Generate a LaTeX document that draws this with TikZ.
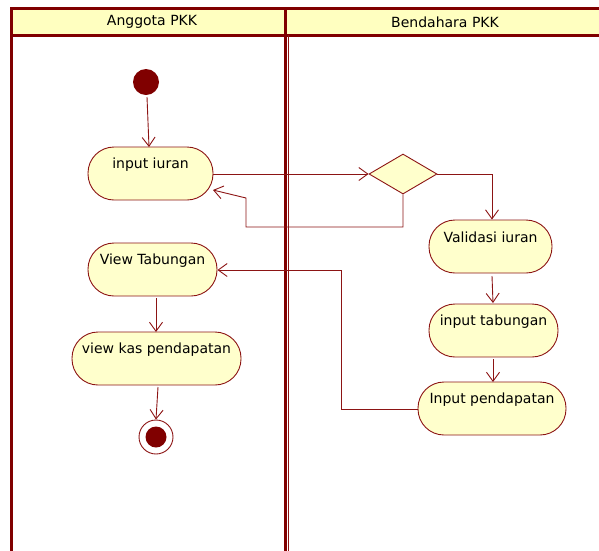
\documentclass[tikz,border=0pt]{standalone}
\usepackage{fontspec}
\setmainfont{DejaVu Sans}
\usetikzlibrary{arrows.meta,shapes.geometric}
\definecolor{umlred}{RGB}{128,0,0}
\definecolor{linered}{RGB}{140,20,20}
\definecolor{actfill}{RGB}{255,255,204}
\definecolor{headfill}{RGB}{255,255,192}
\tikzset{
  lane/.style={draw=umlred, line width=3pt},
  act/.style={draw=linered, fill=actfill, line width=0.9pt, rounded corners=26pt, minimum height=53pt, inner sep=0pt},
  lbl/.style={font=\fontsize{14}{16}\selectfont, text=black},
  flow/.style={draw=linered, line width=0.9pt, -{Straight Barb[length=9pt,width=13pt]}},
}
\begin{document}
\begin{tikzpicture}[x=1pt,y=-1pt]
\useasboundingbox (0,0) rectangle (599,550);
% lanes
\fill[headfill] (11,8) rectangle (605,35);
\draw[lane] (11,560) -- (11,8) -- (605,8);
\draw[lane] (11,35) -- (605,35);
\draw[lane] (285,8) -- (285,560);
\draw[draw=linered, line width=1pt] (288,35) -- (288,560);
\node[lbl] (laneA) at (152,22) {Anggota PKK};
\node[lbl] (laneB) at (445,22) {Bendahara PKK};
% nodes
\node[circle, fill=umlred, minimum size=26pt, inner sep=0pt] (start) at (146,82) {};
\node[act, minimum width=125pt, label={[lbl, yshift=9pt]center:input iuran}] (iuran) at (150.5,173.5) {};
\node[diamond, draw=linered, fill=actfill, line width=0.9pt, minimum width=68pt, minimum height=40pt, inner sep=0pt] (dec) at (403,174) {};
\node[act, minimum width=123pt, label={[lbl, yshift=9pt]center:Validasi iuran}] (valid) at (490.5,246.5) {};
\node[act, minimum width=129pt, label={[lbl, yshift=9pt]center:input tabungan}] (tab) at (493.5,330.5) {};
\node[act, minimum width=148pt, label={[lbl, yshift=9pt]center:Input pendapatan}] (pend) at (492,408.5) {};
\node[act, minimum width=129pt, label={[lbl, yshift=9pt]center:View Tabungan}] (view) at (152.5,269.5) {};
\node[act, minimum width=169pt, label={[lbl, yshift=9pt]center:view kas pendapatan}] (kas) at (156.5,358.5) {};
\node[circle, draw=linered, fill=white, line width=0.9pt, minimum size=34pt, inner sep=0pt] (end) at (156,437) {};
\node[circle, fill=umlred, minimum size=21pt, inner sep=0pt] at (end.center) {};
% connectors
\coordinate (a1) at (147,97);
\coordinate (a2) at (149,147);
\draw[flow] (a1) -- (a2);
\draw[flow] (iuran.east |- dec.west) -- (dec.west);
\coordinate (r1) at (403,227);
\coordinate (r2) at (246,227);
\coordinate (r3) at (246,198);
\coordinate (r4) at (213,190);
\draw[flow] (dec.south) -- (r1) -- (r2) -- (r3) -- (r4);
\coordinate (d1) at (492,174);
\draw[flow] (dec.east) -- (d1) -- (valid.north -| d1);
\coordinate (v1) at (492,276);
\coordinate (v2) at (493,303);
\draw[flow] (v1) -- (v2);
\coordinate (t1) at (493,359);
\coordinate (t2) at (493,382);
\draw[flow] (t1) -- (t2);
\coordinate (p1) at (341,409);
\coordinate (p2) at (341,270);
\draw[flow] (pend.west |- p1) -- (p1) -- (p2) -- (view.east |- p2);
\coordinate (w1) at (156,298);
\coordinate (w2) at (156,332);
\draw[flow] (w1) -- (w2);
\coordinate (k1) at (158,387);
\draw[flow] (k1) -- (end.north);
\end{tikzpicture}
\end{document}
